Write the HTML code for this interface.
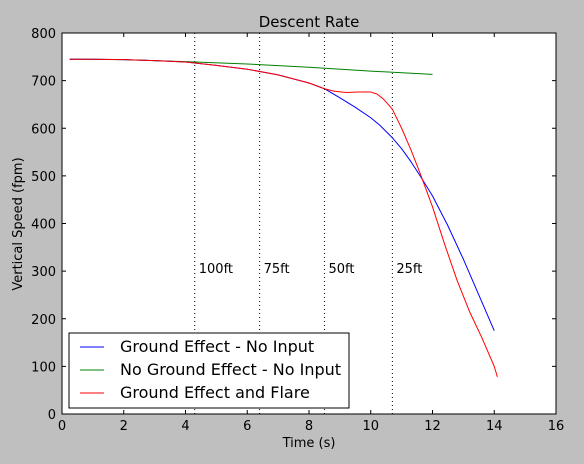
<!DOCTYPE html>
<html><head><meta charset="utf-8"><style>
body{margin:0;background:#bfbfbf;}
svg text{font-family:"DejaVu Sans","Liberation Sans",sans-serif;fill:#000;}
</style></head><body>
<svg width="584" height="459" xmlns="http://www.w3.org/2000/svg">
<rect x="0" y="0" width="584" height="459" fill="#bfbfbf"/>
<rect x="62" y="33" width="494" height="381" fill="#fff"/>
<g id="g"></g>
<text x="309" y="27" font-size="15" text-anchor="middle">Descent Rate</text>
<text x="309" y="447" font-size="13" text-anchor="middle">Time (s)</text>
<text transform="translate(22,224) rotate(-90)" font-size="13" text-anchor="middle">Vertical Speed (fpm)</text>
<rect x="62" y="33" width="494" height="381" fill="none" stroke="#000" stroke-width="1"/>
<g>
<rect x="69" y="333" width="280" height="75" fill="#fff" stroke="#000" stroke-width="1"/>
<line x1="80" y1="347" x2="104" y2="347" stroke="#0000ff"/>
<text x="120" y="352" font-size="16">Ground Effect - No Input</text>
<line x1="80" y1="370" x2="104" y2="370" stroke="#008000"/>
<text x="120" y="375" font-size="16">No Ground Effect - No Input</text>
<line x1="80" y1="393" x2="104" y2="393" stroke="#ff0000"/>
<text x="120" y="398" font-size="16">Ground Effect and Flare</text>
</g>
</svg>
<script>
const xTicks=[0,2,4,6,8,10,12,14,16];
const yTicks=[0,100,200,300,400,500,600,700,800];
const markerTimes=[4.3,6.4,8.5,10.7];
const markerLabels=["100ft","75ft","50ft","25ft"];
const markerLabelValue=300;
const blueT=[0.25,1,2,3,4,5,6,7,8,8.5,9,9.5,10,10.3,10.7,11,11.3,11.6,12,12.5,13,13.5,14];
const blueV=[745,745,744,742,739,732,724,712,695,683,664,644,622,606,580,557,530,500,458,395,325,250,175];
const redT=[0.25,1,2,3,4,5,6,7,8,8.5,8.8,9.2,9.6,10,10.2,10.4,10.7,11,11.3,11.6,12,12.4,12.8,13.2,13.6,14,14.1];
const redV=[745,745,744,742,739,732,724,712,695,683,678,675,676,676,672,662,640,600,555,505,435,355,280,215,160,100,78];
const greenT=[0.25,2,4,6,8,10,12];
const greenV=[745,744,740,735,728,720,713];
const NS='http://www.w3.org/2000/svg';
const X0=62,X1=556,Y0=414,Y1=33;
const sx=t=>X0+t/16*(X1-X0), sy=v=>Y0-v/800*(Y0-Y1);
const g=document.getElementById('g');
function mk(tag,a){const e=document.createElementNS(NS,tag);for(const k in a)e.setAttribute(k,a[k]);g.appendChild(e);return e;}
xTicks.forEach(t=>{
 const l=mk('line',{x1:sx(t),x2:sx(t),y1:Y0,y2:Y0-4,stroke:'#000'});
 
 
 const l2=mk('line',{x1:sx(t),x2:sx(t),y1:Y1,y2:Y1+4,stroke:'#000'});
 
 
 const tx=mk('text',{x:sx(t),y:Y0+16,'font-size':13,'text-anchor':'middle'});tx.textContent=t;
 
 
});
yTicks.forEach(v=>{
 const l=mk('line',{x1:X0,x2:X0+4,y1:sy(v),y2:sy(v),stroke:'#000'});
 
 
 const l2=mk('line',{x1:X1,x2:X1-4,y1:sy(v),y2:sy(v),stroke:'#000'});
 
 
 const tx=mk('text',{x:X0-6,y:sy(v)+5,'font-size':13,'text-anchor':'end'});tx.textContent=v;
 
 
});
markerTimes.forEach((t,i)=>{
 const l=mk('line',{x1:sx(t),x2:sx(t),y1:Y1,y2:Y0,stroke:'#000','stroke-dasharray':'1,3'});
 
 
 const tx=mk('text',{x:sx(t)+4,y:sy(markerLabelValue)+2,'font-size':13});tx.textContent=markerLabels[i];
 
 
});
function series(T,V,c,name){
 const p=mk('polyline',{points:T.map((t,i)=>sx(t)+','+sy(V[i])).join(' '),fill:'none',stroke:c,'stroke-width':1,'stroke-linejoin':'round'});
 
 
}
series(greenT,greenV,'#008000','line-no-ground-effect');
series(blueT,blueV,'#0000ff','line-ground-effect');
series(redT,redV,'#ff0000','line-ground-effect-flare');
</script>
</body></html>
